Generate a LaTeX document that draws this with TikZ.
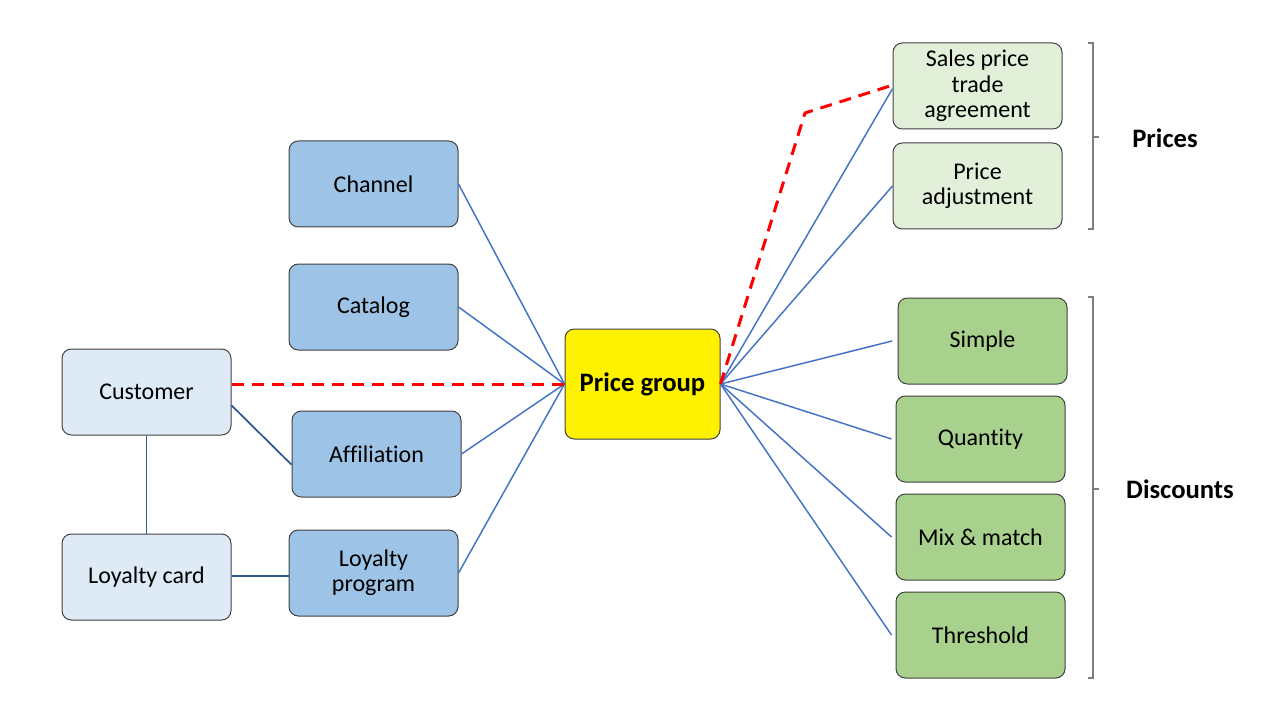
\documentclass[tikz,border=0pt]{standalone}
\usepackage{fontspec}
\setmainfont[Ligatures=NoCommon]{Carlito}
\definecolor{boxline}{HTML}{404040}
\definecolor{midblue}{HTML}{9DC3E6}
\definecolor{paleblue}{HTML}{DEEBF7}
\definecolor{palegreen}{HTML}{E2F0D9}
\definecolor{midgreen}{HTML}{A9D18E}
\definecolor{linkblue}{HTML}{4472C4}
\definecolor{darklink}{HTML}{2F5597}
\definecolor{bracegray}{HTML}{7F7F7F}
\begin{document}
\begin{tikzpicture}[x=0.75pt, y=-0.75pt,
  box/.style={draw=boxline, line width=0.75pt, rounded corners=7pt, align=center,
    minimum width=126.75pt, minimum height=64.5pt, inner sep=2pt,
    font=\fontsize{18}{19}\selectfont},
  link/.style={draw=linkblue, line width=1.1pt},
  custlink/.style={draw=darklink, line width=1.3pt},
  redlink/.style={draw=red, line width=2.25pt, dash pattern=on 9pt off 6pt},
  bracket/.style={draw=bracegray, line width=1.1pt},
  grouplabel/.style={font=\bfseries\fontsize{20}{22}\selectfont}]
\useasboundingbox (0,0) rectangle (1280,720);
% left side
\node[box, fill=midblue] (chan) at (373.5,184) {Channel};
\node[box, fill=midblue] (cat) at (373.5,307) {Catalog};
\node[box, fill=paleblue] (cust) at (146.5,392) {Customer};
\node[box, fill=midblue] (aff) at (376.5,454) {Affiliation};
\node[box, fill=paleblue] (card) at (146.5,577) {Loyalty card};
\node[box, fill=midblue] (prog) at (373.5,573) {Loyalty\\program};
% centre
\node[box, fill=yellow, minimum width=116.25pt, minimum height=82.5pt,
  font=\bfseries\fontsize{20}{22}\selectfont] (pg) at (642.5,384) {Price group};
% right side
\node[box, fill=palegreen] (sales) at (977.5,86) {Sales price\\trade\\agreement};
\node[box, fill=palegreen] (adj) at (977.5,186) {Price\\adjustment};
\node[box, fill=midgreen] (simple) at (982.5,341) {Simple};
\node[box, fill=midgreen] (qty) at (980.5,439) {Quantity};
\node[box, fill=midgreen] (mix) at (980.5,537) {Mix \& match};
\node[box, fill=midgreen] (thr) at (980.5,635) {Threshold};
\coordinate (bend) at (805,113);

\draw[link] (chan.east) -- (pg.west);
\draw[link] (cat.east) -- (pg.west);
\draw[link] (aff.east) -- (pg.west);
\draw[link] (prog.east) -- (pg.west);
\draw[custlink] ([yshift=-10pt]cust.east) -- ([yshift=-8pt]aff.west);
\draw[custlink] (cust.south) -- (card.north);
\draw[custlink] ([yshift=1pt]card.east) -- ([yshift=1pt]card.east -| prog.west);
\draw[redlink] (pg.west -| cust.east) -- (pg.west);

\draw[link] (pg.east) -- ([yshift=-2pt]sales.west);
\draw[link] (pg.east) -- (adj.west);
\draw[link] (pg.east) -- ([xshift=-4pt]simple.west);
\draw[link] (pg.east) -- ([xshift=-3pt]qty.west);
\draw[link] (pg.east) -- ([xshift=-3pt]mix.west);
\draw[link] (pg.east) -- ([xshift=-3pt]thr.west);
\draw[redlink] (pg.east) -- (bend) -- ([xshift=-2pt]sales.west);

% brackets
\draw[bracket] (1088,43) -- (1093,43) -- (1093,229) -- (1088,229);
\draw[bracket] (1093,137) -- (1099,137);
\node[grouplabel] (prices) at (1165,138) {Prices};
\draw[bracket] (1088,297) -- (1093,297) -- (1093,678) -- (1088,678);
\draw[bracket] (1093,489) -- (1099,489);
\node[grouplabel] (disc) at (1180,489) {Discounts};
\end{tikzpicture}
\end{document}
